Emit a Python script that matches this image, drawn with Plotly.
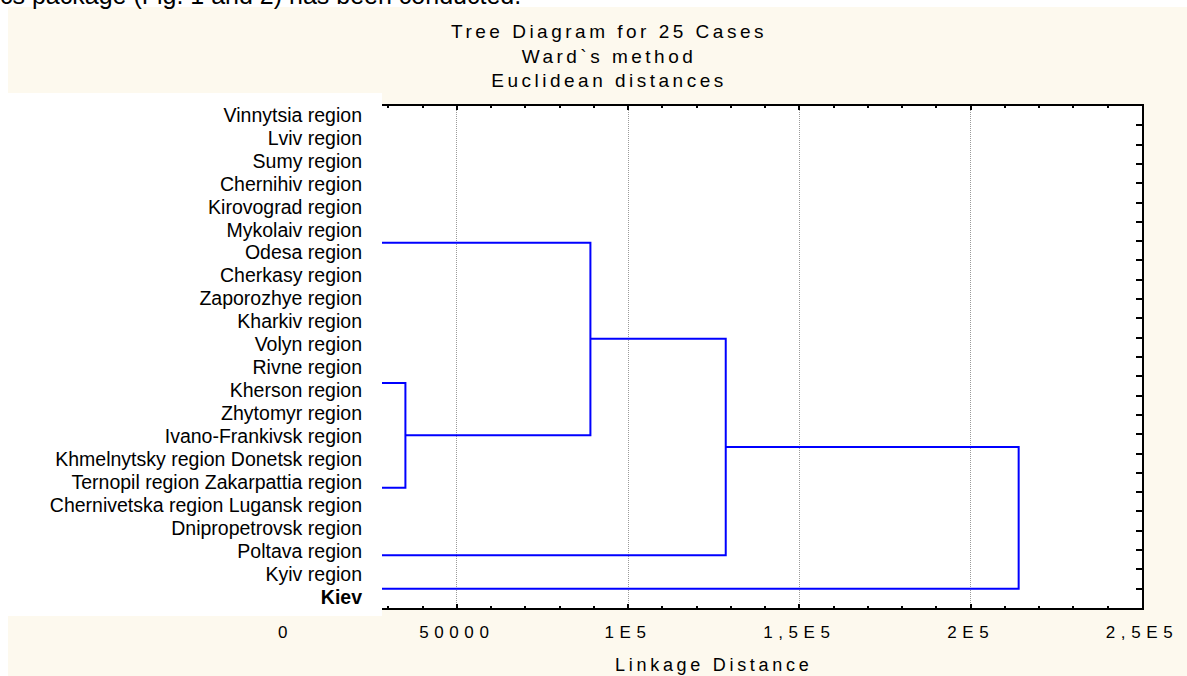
import plotly.graph_objects as go

# Etiquetas de los casos (tal como salen en la imagen, algunas van juntas)
labels = ["Vinnytsia region", "Lviv region", "Sumy region", "Chernihiv region",
          "Kirovograd region", "Mykolaiv region", "Odesa region", "Cherkasy region",
          "Zaporozhye region", "Kharkiv region", "Volyn region", "Rivne region",
          "Kherson region", "Zhytomyr region", "Ivano-Frankivsk region",
          "Khmelnytsky region Donetsk region", "Ternopil region Zakarpattia region",
          "Chernivetska region Lugansk region", "Dnipropetrovsk region",
          "Poltava region", "Kyiv region", "<b>Kiev</b>"]
n_cases = 25

# Uniones del dendrograma (Ward): posicion y altura de cada hijo, altura de la union
left_pos = [14.35, 7.08, 12.05, 17.66]
left_h = [0, 0, 89000, 128500]
right_pos = [19.77, 17.05, 23.27, 25.0]
right_h = [0, 35000, 0, 0]
merge_h = [35000, 89000, 128500, 214000]

x_tickvals = [0, 50000, 100000, 150000, 200000, 250000]
x_ticktext = ["0", "50000", "1E5", "1,5E5", "2E5", "2,5E5"]

W, H = 1187, 676
zero_px, end_px, plot_left_px = 285.5, 1142, 382
top_px, bot_px = 106, 608
x_start = 250000 * (plot_left_px - zero_px) / (end_px - zero_px)

font = "Arial, Liberation Sans, sans-serif"
beige = "#fdf9ee"

xs, ys = [], []
for lp, lh, rp, rh, m in zip(left_pos, left_h, right_pos, right_h, merge_h):
    xs += [lh, m, m, rh, None]
    ys += [lp, lp, rp, rp, None]

fig = go.Figure()
fig.add_trace(go.Scatter(x=xs, y=ys, mode="lines",
                         line=dict(color="#0000ff", width=2),
                         showlegend=False, hoverinfo="skip"))
# trazas vacias para que se dibujen los ejes auxiliares
fig.add_trace(go.Scatter(x=[None], y=[None], xaxis="x2", yaxis="y",
                         showlegend=False, hoverinfo="skip"))
fig.add_trace(go.Scatter(x=[None], y=[None], xaxis="x", yaxis="y2",
                         showlegend=False, hoverinfo="skip"))

fig.update_layout(
    width=W, height=H, autosize=False,
    margin=dict(l=0, r=0, t=0, b=0, pad=0),
    paper_bgcolor="white",
    plot_bgcolor="rgba(0,0,0,0)",
    font=dict(family=font, color="black"),
    title=dict(text="Tree Diagram for 25 Cases<br>Ward`s method<br>Euclidean distances",
               x=609 / W, xanchor="center", y=1 - 38 / H, yanchor="top",
               font=dict(size=19, family=font, color="black")),
    xaxis=dict(domain=[plot_left_px / W, end_px / W], range=[x_start, 250000],
               type="linear", tick0=0, dtick=50000, automargin=False,
               showline=True, mirror="ticks", linecolor="black", linewidth=2,
               ticks="inside", ticklen=4, tickwidth=1.5, tickcolor="black",
               minor=dict(ticks="inside", dtick=10000, ticklen=2, tickcolor="black"),
               showgrid=True, gridcolor="#9a9a9a", griddash="1px,1px", gridwidth=1,
               showticklabels=False, zeroline=False),
    xaxis2=dict(domain=[zero_px / W, end_px / W], range=[0, 250000], anchor="y",
                type="linear", tickvals=x_tickvals, ticktext=x_ticktext, automargin=False,
                tickfont=dict(size=17), ticklabelstandoff=12,
                showline=False, showgrid=False, zeroline=False, ticks="",
                title=dict(text="Linkage Distance", font=dict(size=18), standoff=17)),
    yaxis=dict(domain=[(H - bot_px) / H, (H - top_px) / H], range=[n_cases + 1, 0],
               side="right", anchor="x", tickvals=list(range(1, n_cases + 1)),
               automargin=False,
               showline=True, linecolor="black", linewidth=2,
               ticks="inside", ticklen=6, tickwidth=1.5, tickcolor="black",
               showticklabels=False, showgrid=False, zeroline=False),
    yaxis2=dict(overlaying="y", side="left", anchor="x", automargin=False,
                range=[21.49, -0.392], tickvals=list(range(len(labels))),
                ticktext=labels, tickfont=dict(size=19.5), ticklabelstandoff=19,
                ticks="", showline=False, showgrid=False, zeroline=False),
    shapes=[
        dict(type="rect", xref="paper", yref="paper", x0=8 / W, x1=1, y0=0, y1=1 - 7 / H,
             fillcolor=beige, line=dict(width=0), layer="below"),
        dict(type="rect", xref="paper", yref="paper", x0=8 / W, x1=plot_left_px / W,
             y0=1 - 616 / H, y1=1 - 93 / H, fillcolor="white", line=dict(width=0), layer="below"),
        dict(type="rect", xref="paper", yref="paper", x0=plot_left_px / W, x1=end_px / W,
             y0=1 - bot_px / H, y1=1 - top_px / H, fillcolor="white", line=dict(width=0), layer="below"),
    ],
    annotations=[
        dict(text="cs package (Fig. 1 and 2) has been conducted.", xref="paper", yref="paper",
             x=-0.002, xanchor="left", y=1 + 5 / H, yanchor="middle", showarrow=False,
             font=dict(size=25, family=font, color="black")),
    ],
)

# sin margen de pagina y espaciado de letras como en Statistica
post_js = """
document.body.style.margin = '0';
document.body.style.overflow = 'hidden';
var gd = document.getElementById('{plot_id}');
function spread() {
  gd.querySelectorAll('.gtitle').forEach(function(t) { t.style.letterSpacing = '3.5px'; });
  gd.querySelectorAll('.x2tick text').forEach(function(t) { t.style.letterSpacing = '5.6px'; });
  gd.querySelectorAll('.x2title').forEach(function(t) { t.style.letterSpacing = '3.7px'; });
}
spread();
gd.on('plotly_afterplot', spread);
"""

fig.write_html("out.html", post_script=post_js, config={"displayModeBar": False})
